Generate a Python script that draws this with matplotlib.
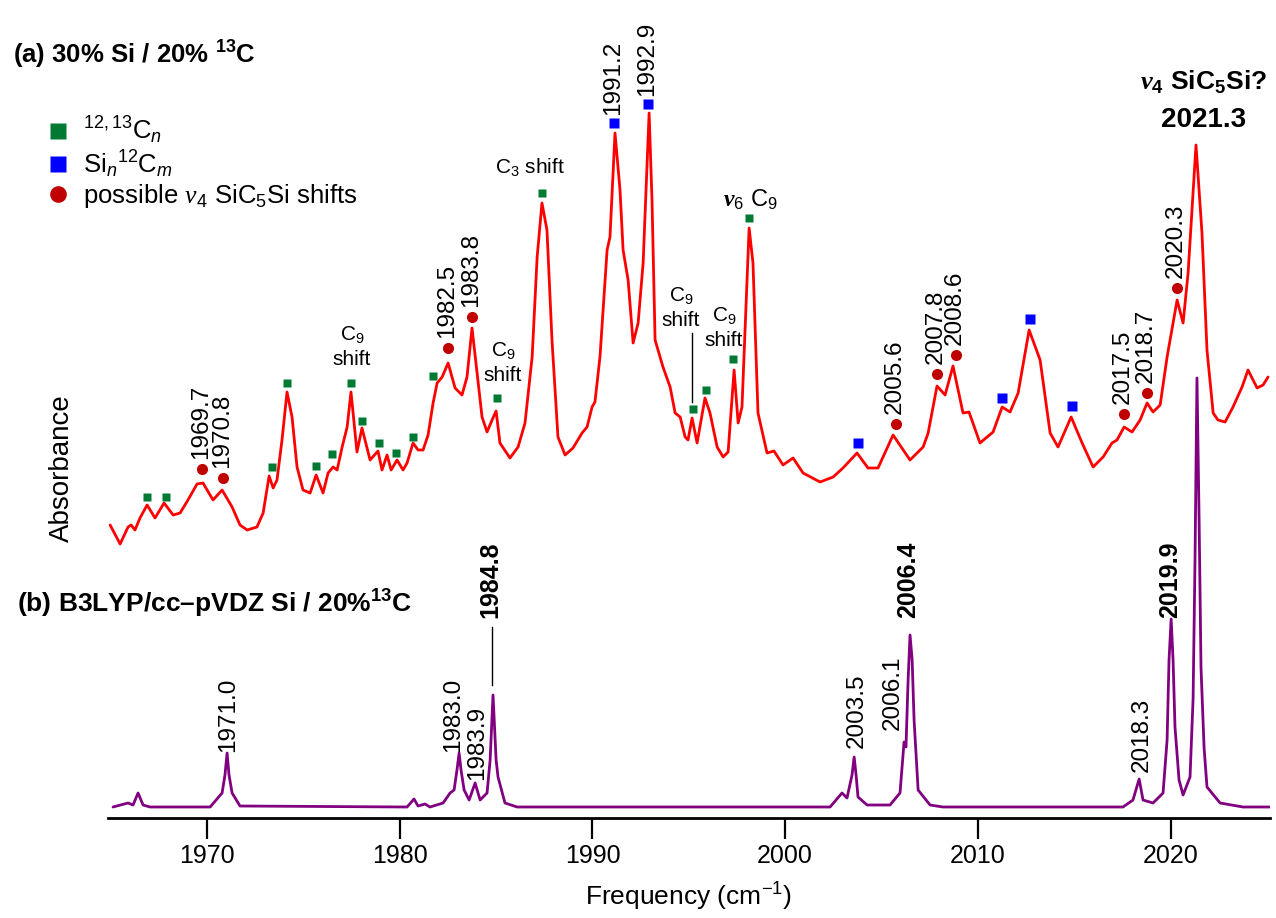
import numpy as np
import matplotlib
matplotlib.use('Agg')
import matplotlib.pyplot as plt
from matplotlib.lines import Line2D

plt.rcParams['font.family'] = ['Liberation Sans', 'DejaVu Sans']
plt.rcParams['mathtext.fontset'] = 'custom'
plt.rcParams['mathtext.rm'] = 'Liberation Sans'
plt.rcParams['mathtext.it'] = 'Liberation Sans:italic'
plt.rcParams['mathtext.bf'] = 'Liberation Sans:bold'
plt.rcParams['mathtext.cal'] = 'Liberation Serif:italic'
plt.rcParams['mathtext.sf'] = 'Liberation Serif:italic:bold'

exp_freq = [1964.97, 1965.49, 1965.90, 1966.06, 1966.26, 1966.52, 1966.89, 1967.30, 1967.77, 1968.24,
            1968.60, 1969.01, 1969.48, 1969.79, 1970.31, 1970.78, 1971.30, 1971.71, 1972.08, 1972.59,
            1972.91, 1973.22, 1973.43, 1973.63, 1973.89, 1974.15, 1974.41, 1974.67, 1974.98, 1975.35,
            1975.66, 1976.02, 1976.28, 1976.54, 1976.75, 1977.01, 1977.27, 1977.47, 1977.78, 1978.04,
            1978.46, 1978.87, 1979.08, 1979.34, 1979.55, 1979.86, 1980.17, 1980.38, 1980.69, 1980.95,
            1981.21, 1981.47, 1981.73, 1981.94, 1982.20, 1982.51, 1982.87, 1983.23, 1983.49, 1983.75,
            1984.01, 1984.27, 1984.53, 1984.79, 1985.00, 1985.20, 1985.72, 1986.14, 1986.50, 1986.87,
            1987.13, 1987.38, 1987.64, 1987.90, 1988.21, 1988.58, 1988.99, 1989.46, 1989.72, 1989.98,
            1990.13, 1990.39, 1990.76, 1990.91, 1991.17, 1991.43, 1991.59, 1991.85, 1992.11, 1992.37,
            1992.63, 1992.94, 1993.09, 1993.25, 1993.66, 1994.03, 1994.29, 1994.55, 1994.81, 1994.96,
            1995.17, 1995.43, 1995.84, 1996.10, 1996.47, 1996.78, 1997.04, 1997.35, 1997.56, 1997.76,
            1998.13, 1998.33, 1998.59, 1999.06, 1999.42, 1999.89, 2000.41, 2000.93, 2001.81, 2002.49,
            2003.00, 2003.73, 2004.30, 2004.82, 2005.60, 2006.48, 2007.16, 2007.42, 2007.88, 2008.30,
            2008.71, 2009.23, 2009.54, 2010.11, 2010.79, 2011.26, 2011.67, 2012.09, 2012.66, 2013.23,
            2013.75, 2014.16, 2014.84, 2015.41, 2015.98, 2016.50, 2016.96, 2017.22, 2017.59, 2018.00,
            2018.42, 2018.78, 2019.09, 2019.46, 2019.82, 2020.34, 2020.65, 2020.91, 2021.32, 2021.63,
            2021.89, 2022.21, 2022.46, 2022.83, 2023.24, 2023.71, 2024.02, 2024.49, 2024.80, 2025.06]
exp_abs = [29.3, 27.4, 29.1, 29.3, 28.8, 30.0, 31.3, 30.0, 31.5, 30.3,
           30.5, 31.8, 33.4, 33.5, 31.8, 32.8, 31.1, 29.3, 28.8, 29.1,
           30.5, 34.2, 33.0, 33.8, 37.8, 42.6, 40.1, 35.1, 32.8, 32.5,
           34.3, 32.5, 34.5, 35.1, 34.8, 37.1, 39.1, 42.6, 36.6, 39.0,
           35.8, 36.7, 34.8, 36.3, 34.8, 35.8, 34.8, 35.5, 37.5, 36.8,
           36.8, 38.3, 41.5, 43.5, 44.1, 45.5, 43.0, 42.3, 44.1, 49.0,
           44.5, 40.1, 38.6, 39.8, 40.7, 37.5, 36.0, 37.1, 39.5, 46.1,
           56.1, 61.5, 58.8, 47.8, 38.1, 36.3, 37.0, 38.5, 39.1, 41.1,
           41.6, 46.1, 56.8, 58.1, 68.5, 62.8, 56.8, 53.8, 47.5, 49.5,
           55.5, 70.5, 61.8, 47.8, 45.1, 43.1, 40.5, 40.1, 38.1, 37.8,
           40.0, 37.5, 42.0, 40.5, 37.1, 36.1, 36.6, 44.8, 39.5, 41.1,
           59.0, 55.5, 40.5, 36.5, 36.7, 35.3, 36.0, 34.5, 33.6, 34.1,
           35.0, 36.5, 35.0, 35.0, 38.3, 35.8, 37.1, 38.5, 43.2, 42.3,
           45.2, 40.5, 40.6, 37.5, 38.6, 41.1, 40.6, 42.5, 48.8, 45.8,
           38.5, 37.1, 40.1, 37.5, 35.1, 36.1, 37.5, 37.8, 39.1, 38.6,
           39.8, 41.5, 40.6, 41.3, 46.1, 51.8, 49.5, 54.5, 67.3, 58.5,
           46.8, 40.5, 39.8, 39.6, 41.1, 43.1, 44.8, 43.0, 43.3, 44.1]

# (b) B3LYP calculated spectrum
calc_freq = [1965.12, 1965.90, 1966.16, 1966.42, 1966.68, 1967.04, 1970.16, 1970.78, 1970.93, 1971.04,
             1971.14, 1971.30, 1971.71, 1980.38, 1980.74, 1980.95, 1981.31, 1981.57, 1982.25, 1982.61,
             1982.82, 1982.97, 1983.08, 1983.18, 1983.34, 1983.60, 1983.91, 1984.17, 1984.53, 1984.69,
             1984.84, 1985.00, 1985.10, 1985.46, 1986.09, 2002.33, 2002.95, 2003.21, 2003.47, 2003.58,
             2003.68, 2003.78, 2004.25, 2005.44, 2005.96, 2006.17, 2006.27, 2006.38, 2006.48, 2006.59,
             2006.69, 2006.90, 2007.52, 2008.19, 2017.53, 2018.05, 2018.37, 2018.57, 2019.09, 2019.61,
             2019.82, 2019.92, 2020.03, 2020.13, 2020.23, 2020.44, 2020.65, 2021.01, 2021.17, 2021.27,
             2021.37, 2021.48, 2021.58, 2021.74, 2021.89, 2022.57, 2023.76, 2025.16]
calc_abs = [1.1, 1.5, 1.3, 2.5, 1.3, 1.1, 1.1, 2.5, 4.3, 6.5,
            4.3, 2.5, 1.2, 1.1, 1.9, 1.2, 1.4, 1.1, 1.5, 2.5,
            2.8, 4.8, 6.5, 4.8, 2.8, 1.8, 3.5, 1.8, 2.5, 5.8,
            12.3, 5.8, 4.1, 1.5, 1.1, 1.1, 2.5, 2.0, 4.3, 6.1,
            4.3, 2.1, 1.3, 1.3, 2.5, 7.6, 7.1, 13.8, 18.3, 15.8,
            9.8, 2.8, 1.3, 1.1, 1.1, 1.8, 3.9, 1.8, 1.5, 2.5,
            7.8, 15.8, 19.9, 15.8, 9.1, 3.8, 2.3, 4.1, 12.0, 26.0,
            44.0, 30.0, 15.0, 7.0, 3.1, 1.5, 1.1, 1.1]

# band assignments
c_freq = [1966.89, 1967.87, 1973.37, 1974.15, 1975.66, 1976.49, 1977.47, 1978.04, 1978.93,
          1979.81, 1980.69, 1981.73, 1985.05, 1987.38, 1995.22, 1995.90, 1997.30, 1998.13]
c_abs = [32.1, 32.1, 35.1, 43.5, 35.2, 36.4, 43.5, 39.7, 37.5,
         36.5, 38.1, 44.2, 42.0, 62.5, 40.9, 42.8, 45.9, 60.0]
sic_freq = [1991.12, 1992.89, 2003.78, 2011.26, 2012.71, 2014.89]
sic_abs = [69.5, 71.4, 37.5, 42.0, 49.9, 41.2]
sic_labels = ['1991.2', '1992.9', '', '', '', '']
shift_freq = [1969.74, 1970.83, 1982.51, 1983.75, 2005.76, 2007.88, 2008.87, 2017.59, 2018.78, 2020.34]
shift_abs = [34.9, 34.0, 47.0, 50.1, 39.4, 44.4, 46.3, 40.4, 42.5, 53.0]
shift_labels = ['1969.7', '1970.8', '1982.5', '1983.8', '2005.6', '2007.8', '2008.6',
                '2017.5', '2018.7', '2020.3']

# calculated peak labels (text, x, y of label foot)
calc_labels = ['1971.0', '1983.0', '1983.9', '2003.5', '2006.1', '2018.3']
calc_label_x = [1971.09, 1982.77, 1984.01, 2003.73, 2005.60, 2018.52]
calc_label_y = [6.6, 6.6, 3.8, 7.0, 8.8, 4.6]
calc_bold = ['1984.8', '2006.4', '2019.9']
calc_bold_x = [1984.69, 2006.38, 2019.97]

fig = plt.figure(figsize=(12.76, 9.18), dpi=100)
ax = fig.add_axes([108 / 1276, 100 / 918, 1162 / 1276, 818 / 918])

ax.plot(exp_freq, exp_abs, color='#ff0000', lw=2, zorder=2,
        solid_joinstyle='round', solid_capstyle='round')
ax.plot(calc_freq, calc_abs, color='#800080', lw=2, zorder=2,
        solid_joinstyle='round', solid_capstyle='round')

ax.plot(c_freq, c_abs, 's', color='#007a33', ms=6, mec='none', zorder=3)
ax.plot(sic_freq, sic_abs, 's', color='#0000ff', ms=6.5, mec='none', zorder=3)
ax.plot(shift_freq, shift_abs, 'o', color='#c00000', ms=8, mec='none', zorder=3)

for f, a, lab in zip(shift_freq, shift_abs, shift_labels):
    ax.annotate(lab, (f, a), xytext=(-1, 7), textcoords='offset points',
                rotation=90, ha='center', va='bottom', fontsize=17.5)
for f, a, lab in zip(sic_freq, sic_abs, sic_labels):
    if lab:
        ax.annotate(lab, (f, a), xytext=(-1, 6), textcoords='offset points',
                    rotation=90, ha='center', va='bottom', fontsize=17.5)

for lab, x, y in zip(calc_labels, calc_label_x, calc_label_y):
    ax.text(x, y, lab, rotation=90, ha='center', va='bottom', fontsize=17.5)
for lab, x in zip(calc_bold, calc_bold_x):
    ax.text(x, 20.0, lab, rotation=90, ha='center', va='bottom', fontsize=18,
            fontweight='bold')
ax.plot([1984.79, 1984.79], [13.3, 19.1], color='black', lw=1)

# assignment notes
note = dict(ha='center', va='center', fontsize=15, linespacing=1.25)
ax.text(1986.76, 65.0, 'C$_3$ shift', **note)
ax.text(1977.52, 47.1, 'C$_9$\nshift', **note)
ax.text(1985.36, 45.5, 'C$_9$\nshift', **note)
ax.text(1994.60, 51.0, 'C$_9$\nshift', **note)
ax.text(1996.83, 49.0, 'C$_9$\nshift', **note)
ax.plot([1995.17, 1995.17], [41.6, 48.5], color='black', lw=1)
ax.text(1998.18, 61.8, r'$\mathsf{v}_6$ C$_9$', ha='center', va='center', fontsize=17)
ax.text(2021.69, 73.6, r'$\mathsf{v}_{\mathbf{4}}$ SiC$_{\mathbf{5}}$Si?', ha='center',
        va='center', fontsize=19, fontweight='bold')
ax.text(2021.69, 69.8, '2021.3', ha='center', va='center', fontsize=20, fontweight='bold')

handles = [Line2D([], [], ls='none', marker='s', ms=11, color='#007a33', mec='none'),
           Line2D([], [], ls='none', marker='s', ms=11, color='#0000ff', mec='none'),
           Line2D([], [], ls='none', marker='o', ms=12, color='#c00000', mec='none')]
labels = [r'$^{12,13}$C$_n$', r'Si$_n$$^{12}$C$_m$', r'possible $\mathcal{v}_4$ SiC$_5$Si shifts']
ax.legend(handles, labels, loc='upper left', bbox_to_anchor=(48 / 1276, 1 - 115 / 918),
          bbox_transform=fig.transFigure, frameon=False, fontsize=18.5, handlelength=0.8,
          handletextpad=0.55, labelspacing=0.08, borderpad=0, borderaxespad=0)

fig.text(13 / 1276, 1 - 55 / 918, r'(a) 30% Si / 20% $^{\mathbf{13}}$C', fontsize=18.5,
         fontweight='bold', ha='left', va='center')
fig.text(17 / 1276, 1 - 604 / 918, r'(b) B3LYP/cc–pVDZ Si / 20%$^{\mathbf{13}}$C', fontsize=19,
         fontweight='bold', ha='left', va='center')
fig.text(62 / 1276, 1 - 468 / 918, 'Absorbance', rotation=90, ha='center', va='center',
         fontsize=20)

ax.set_xlim(1964.86, 2025.16)
ax.set_ylim(0, 81.8)
ax.set_xticks(np.arange(1970, 2021, 10))
ax.tick_params(axis='x', length=15, width=1.6, labelsize=18, pad=4)
ax.set_yticks([])
for s in ['top', 'right', 'left']:
    ax.spines[s].set_visible(False)
ax.spines['bottom'].set_linewidth(2)
ax.set_xlabel('Frequency (cm$^{-1}$)', fontsize=19, labelpad=9)
ax.patch.set_visible(False)

fig.savefig('out.png', dpi=100)
